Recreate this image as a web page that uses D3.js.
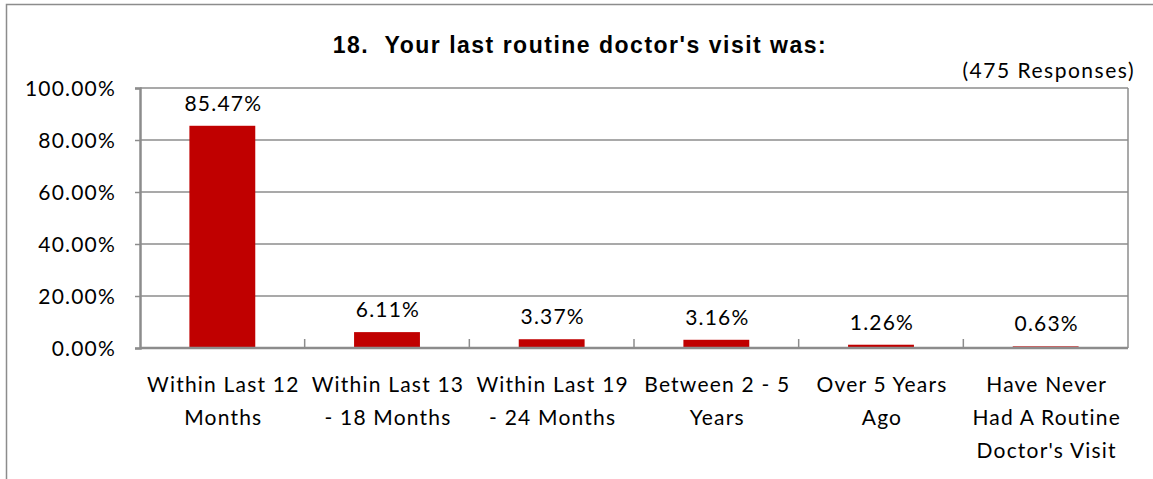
<!DOCTYPE html>
<html>
<head>
<meta charset="utf-8">
<script src="https://cdn.jsdelivr.net/npm/d3@7"></script>
<style>
  body { margin: 0; background: #fff; }
  svg text { font-family: Lato, "Open Sans", sans-serif; fill: #000; letter-spacing: 1.2px; }
</style>
</head>
<body>
<div id="chart"></div>
<script>
const categories = [
  ['Within Last 12', 'Months'],
  ['Within Last 13', '- 18 Months'],
  ['Within Last 19', '- 24 Months'],
  ['Between 2 - 5', 'Years'],
  ['Over 5 Years', 'Ago'],
  ['Have Never', 'Had A Routine', "Doctor's Visit"]
]
const values = [85.47, 6.11, 3.37, 3.16, 1.26, 0.63]
const yTicks = [0, 20, 40, 60, 80, 100]

const width = 1153
const height = 479
const margins = { left: 140, right: 25, top: 88, bottom: 131 }

const svg = d3.select('#chart').append('svg')
  .attr('width', width)
  .attr('height', height)

// outer frame
svg.append('rect')
  .attr('x', 6.5).attr('y', 4.5)
  .attr('width', width + 10).attr('height', height + 10)
  .attr('fill', 'none')
  .attr('stroke', '#8c8c8c')
  .attr('stroke-width', 1.5)

svg.append('text')
  .attr('x', 580).attr('y', 53)
  .attr('text-anchor', 'middle')
  .style('font-family', '"Liberation Sans", Arial, sans-serif')
  .style('font-weight', 'bold')
  .style('font-size', '23px')
  .style('letter-spacing', '1.5px')
  .attr('xml:space', 'preserve')
  .text("18.  Your last routine doctor's visit was:")

svg.append('text')
  .attr('x', 1135).attr('y', 78)
  .attr('text-anchor', 'end')
  .style('font-size', '21px')
  .style('letter-spacing', '1.5px')
  .text('(475 Responses)')

const plotWidth = width - margins.left - margins.right
const plotHeight = height - margins.top - margins.bottom
const plot = svg.append('g')
  .attr('transform', `translate(${margins.left}, ${margins.top})`)

// scales
const x = d3.scaleBand()
  .domain(d3.range(categories.length))
  .range([0, plotWidth])
  .paddingInner(0.6)
  .paddingOuter(0.3)
const y = d3.scaleLinear().domain([0, 100]).range([plotHeight, 0])

// gridlines
plot.selectAll('line.grid')
  .data(yTicks.slice(1))
  .enter()
  .append('line')
  .attr('class', 'grid')
  .attr('x1', 0).attr('x2', plotWidth)
  .attr('y1', d => y(d)).attr('y2', d => y(d))
  .attr('stroke', '#8c8c8c')
  .attr('stroke-width', 1.5)

// right border of plot area
plot.append('line')
  .attr('x1', plotWidth).attr('x2', plotWidth)
  .attr('y1', 0).attr('y2', plotHeight)
  .attr('stroke', '#8c8c8c')
  .attr('stroke-width', 1.5)

// bars
plot.selectAll('rect.bar')
  .data(values)
  .enter()
  .append('rect')
  .attr('class', 'bar')
  .attr('fill', '#c00000')
  .attr('x', (d, i) => x(i))
  .attr('y', d => y(d))
  .attr('width', x.bandwidth())
  .attr('height', d => plotHeight - y(d))

// value labels
plot.selectAll('text.count')
  .data(values)
  .enter()
  .append('text')
  .attr('class', 'count')
  .attr('text-anchor', 'middle')
  .style('font-size', '21px')
  .attr('x', (d, i) => x(i) + x.bandwidth() / 2 + 1)
  .attr('y', d => y(d) - 15)
  .text(d => d.toFixed(2) + '%')

// y-axis
const yAxis = plot.append('g')
  .call(d3.axisLeft(y).tickValues(yTicks).tickSize(5).tickPadding(19)
    .tickFormat(d => d.toFixed(2) + '%'))
yAxis.select('.domain').attr('stroke', '#8c8c8c').attr('stroke-width', 2.5)
yAxis.selectAll('.tick line').attr('stroke', '#8c8c8c').attr('stroke-width', 1.5)
yAxis.selectAll('.tick text')
  .style('font-size', '21px')
  .style('font-family', 'Lato, "Open Sans", sans-serif')
  .attr('dy', '0.35em')

// x-axis
const step = plotWidth / categories.length
const xAxis = plot.append('g').attr('transform', `translate(0, ${plotHeight})`)
xAxis.append('line')
  .attr('x1', 0).attr('x2', plotWidth)
  .attr('stroke', '#8c8c8c')
  .attr('stroke-width', 2.5)
xAxis.selectAll('line.tick')
  .data(d3.range(1, categories.length))
  .enter()
  .append('line')
  .attr('class', 'tick')
  .attr('x1', d => d * step).attr('x2', d => d * step)
  .attr('y1', 0).attr('y2', -9)
  .attr('stroke', '#8c8c8c')
  .attr('stroke-width', 1.5)

const labels = xAxis.selectAll('text.label')
  .data(categories)
  .enter()
  .append('text')
  .attr('class', 'label')
  .attr('text-anchor', 'middle')
  .style('font-size', '21px')
  .attr('x', (d, i) => x(i) + x.bandwidth() / 2 + 1)
  .attr('y', 44)

labels.selectAll('tspan')
  .data(d => d)
  .enter()
  .append('tspan')
  .attr('x', function() { return d3.select(this.parentNode).attr('x') })
  .attr('dy', (d, i) => (i === 0 ? 0 : 33))
  .text(d => d)
</script>
</body>
</html>
